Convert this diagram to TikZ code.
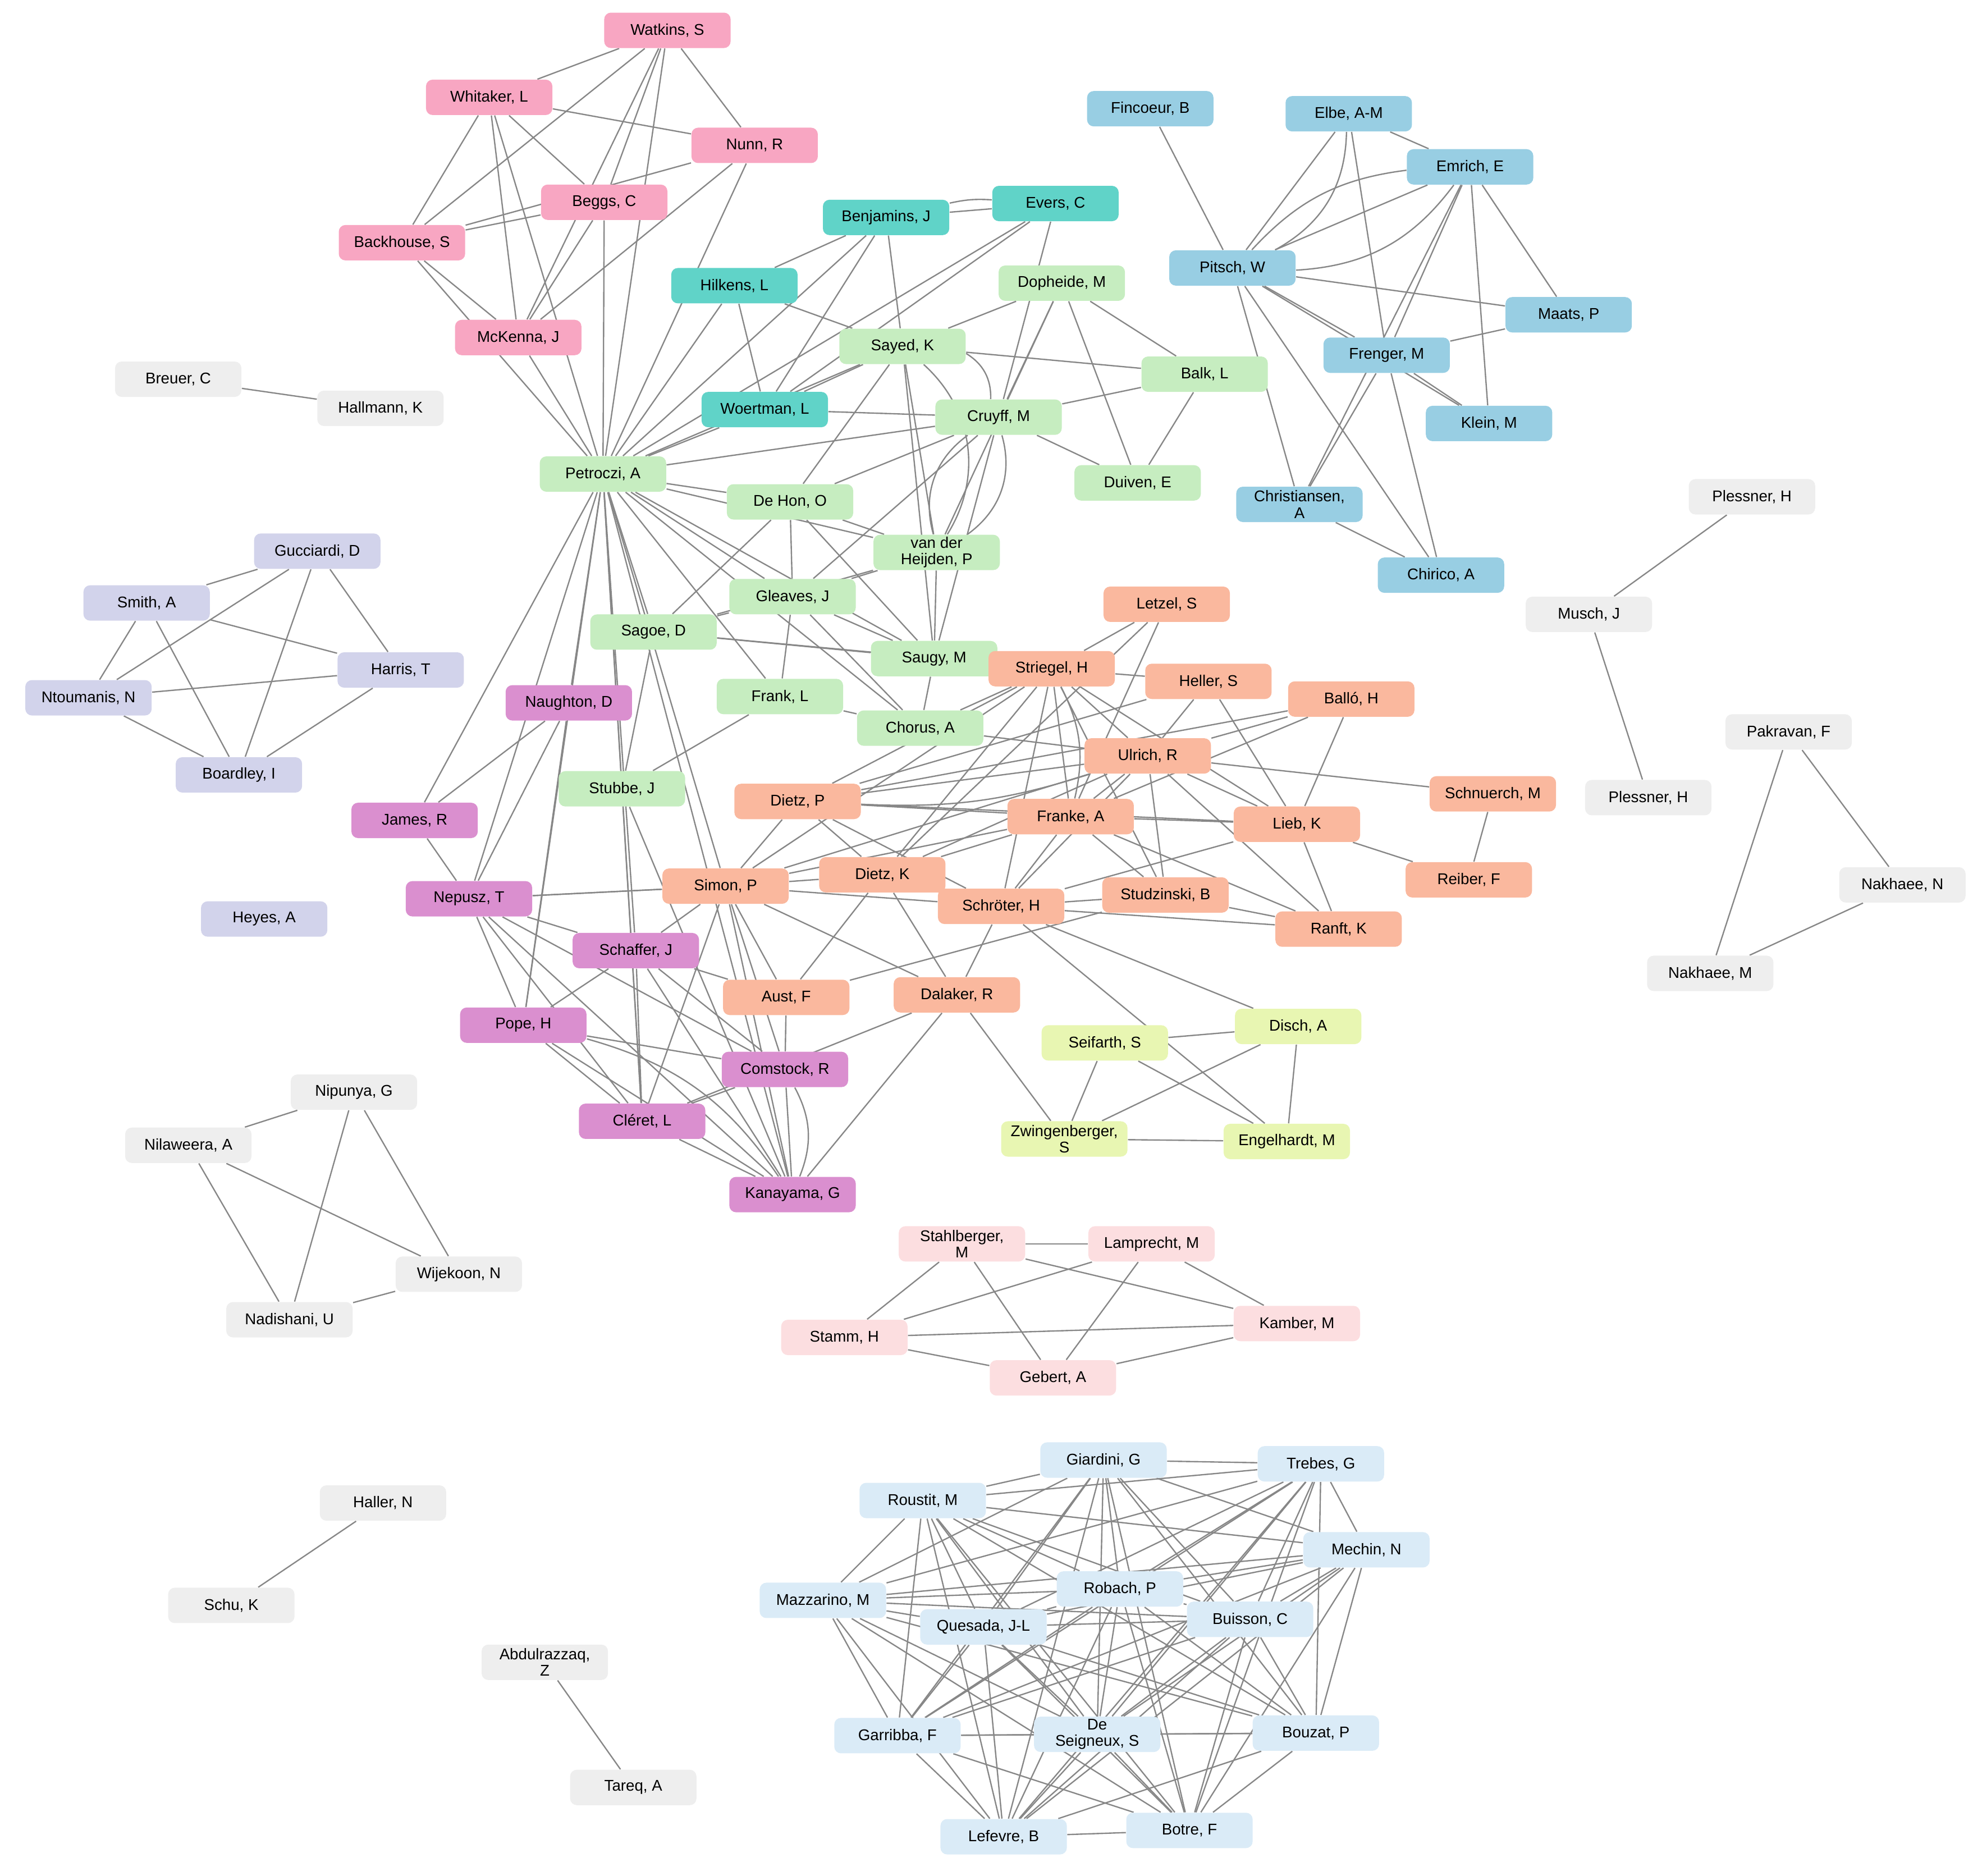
\documentclass[tikz,border=0pt]{standalone}
\usepackage{fontspec}
\setmainfont{Liberation Sans}
\usetikzlibrary{backgrounds}
\definecolor{cpink}{RGB}{248,166,194}
\definecolor{cteal}{RGB}{96,211,200}
\definecolor{cgreen}{RGB}{198,237,192}
\definecolor{cblue}{RGB}{152,206,227}
\definecolor{clav}{RGB}{210,211,235}
\definecolor{corange}{RGB}{250,184,158}
\definecolor{cpurple}{RGB}{218,143,207}
\definecolor{cyellow}{RGB}{232,246,178}
\definecolor{cpale}{RGB}{252,222,224}
\definecolor{csky}{RGB}{218,235,247}
\definecolor{cgray}{RGB}{238,238,238}
\definecolor{cedge}{RGB}{135,135,135}
\tikzset{
  au/.style={rounded corners=3pt, minimum width=2cm, minimum height=0.56cm,
    inner sep=1pt, align=center, font=\fontsize{7}{7.4}\selectfont},
  edge/.style={draw=cedge, line width=0.6pt}
}
\begin{document}
\begin{tikzpicture}[x=0.02cm,y=-0.02cm]
  \useasboundingbox (0,0) rectangle (1568,1484);

  \node[au,fill=cpink] (watkins) at (528,24) {Watkins, S};
  \node[au,fill=cpink] (whitaker) at (387,77) {Whitaker, L};
  \node[au,fill=cpink] (nunn) at (597,115) {Nunn, R};
  \node[au,fill=cpink] (beggs) at (478,160) {Beggs, C};
  \node[au,fill=cpink] (backhouse) at (318,192) {Backhouse, S};
  \node[au,fill=cpink] (mckenna) at (410,267) {McKenna, J};

  \node[au,fill=cteal] (benjamins) at (701,172) {Benjamins, J};
  \node[au,fill=cteal] (evers) at (835,161) {Evers, C};
  \node[au,fill=cteal] (hilkens) at (581,226) {Hilkens, L};
  \node[au,fill=cteal] (woertman) at (605,324) {Woertman, L};

  \node[au,fill=cgreen] (dopheide) at (840,224) {Dopheide, M};
  \node[au,fill=cgreen] (sayed) at (714,274) {Sayed, K};
  \node[au,fill=cgreen] (balk) at (953,296) {Balk, L};
  \node[au,fill=cgreen] (cruyff) at (790,330) {Cruyff, M};
  \node[au,fill=cgreen] (petroczi) at (477,375) {Petroczi, A};
  \node[au,fill=cgreen] (duiven) at (900,382) {Duiven, E};
  \node[au,fill=cgreen] (dehon) at (625,397) {De Hon, O};
  \node[au,fill=cgreen] (vdh) at (741,437) {van der\\Heijden, P};
  \node[au,fill=cgreen] (gleaves) at (627,472) {Gleaves, J};
  \node[au,fill=cgreen] (sagoe) at (517,500) {Sagoe, D};
  \node[au,fill=cgreen] (saugy) at (739,521) {Saugy, M};
  \node[au,fill=cgreen] (frank) at (617,551) {Frank, L};
  \node[au,fill=cgreen] (chorus) at (728,576) {Chorus, A};
  \node[au,fill=cgreen] (stubbe) at (492,624) {Stubbe, J};

  \node[au,fill=cblue] (fincoeur) at (910,86) {Fincoeur, B};
  \node[au,fill=cblue] (elbe) at (1067,90) {Elbe, A-M};
  \node[au,fill=cblue] (emrich) at (1163,132) {Emrich, E};
  \node[au,fill=cblue] (pitsch) at (975,212) {Pitsch, W};
  \node[au,fill=cblue] (maats) at (1241,249) {Maats, P};
  \node[au,fill=cblue] (frenger) at (1097,281) {Frenger, M};
  \node[au,fill=cblue] (klein) at (1178,335) {Klein, M};
  \node[au,fill=cblue] (christiansen) at (1028,399) {Christiansen,\\A};
  \node[au,fill=cblue] (chirico) at (1140,455) {Chirico, A};

  \node[au,fill=clav] (gucciardi) at (251,436) {Gucciardi, D};
  \node[au,fill=clav] (smith) at (116,477) {Smith, A};
  \node[au,fill=clav] (harris) at (317,530) {Harris, T};
  \node[au,fill=clav] (ntoumanis) at (70,552) {Ntoumanis, N};
  \node[au,fill=clav] (boardley) at (189,613) {Boardley, I};
  \node[au,fill=clav] (heyes) at (209,727) {Heyes, A};

  \node[au,fill=corange] (letzel) at (923,478) {Letzel, S};
  \node[au,fill=corange] (striegel) at (832,529) {Striegel, H};
  \node[au,fill=corange] (heller) at (956,539) {Heller, S};
  \node[au,fill=corange] (ballo) at (1069,553) {Balló, H};
  \node[au,fill=corange] (ulrich) at (908,598) {Ulrich, R};
  \node[au,fill=corange] (schnuerch) at (1181,628) {Schnuerch, M};
  \node[au,fill=corange] (dietzP) at (631,634) {Dietz, P};
  \node[au,fill=corange] (franke) at (847,646) {Franke, A};
  \node[au,fill=corange] (lieb) at (1026,652) {Lieb, K};
  \node[au,fill=corange] (reiber) at (1162,696) {Reiber, F};
  \node[au,fill=corange] (simon) at (574,701) {Simon, P};
  \node[au,fill=corange] (dietzK) at (698,692) {Dietz, K};
  \node[au,fill=corange] (studzinski) at (922,708) {Studzinski, B};
  \node[au,fill=corange] (schroeter) at (792,717) {Schröter, H};
  \node[au,fill=corange] (ranft) at (1059,735) {Ranft, K};
  \node[au,fill=corange] (aust) at (622,789) {Aust, F};
  \node[au,fill=corange] (dalaker) at (757,787) {Dalaker, R};

  \node[au,fill=cpurple] (naughton) at (450,556) {Naughton, D};
  \node[au,fill=cpurple] (james) at (328,649) {James, R};
  \node[au,fill=cpurple] (nepusz) at (371,711) {Nepusz, T};
  \node[au,fill=cpurple] (schaffer) at (503,752) {Schaffer, J};
  \node[au,fill=cpurple] (pope) at (414,811) {Pope, H};
  \node[au,fill=cpurple] (comstock) at (621,846) {Comstock, R};
  \node[au,fill=cpurple] (cleret) at (508,887) {Cléret, L};
  \node[au,fill=cpurple] (kanayama) at (627,945) {Kanayama, G};

  \node[au,fill=cyellow] (seifarth) at (874,825) {Seifarth, S};
  \node[au,fill=cyellow] (disch) at (1027,812) {Disch, A};
  \node[au,fill=cyellow] (zwingenberger) at (842,901) {Zwingenberger,\\S};
  \node[au,fill=cyellow] (engelhardt) at (1018,903) {Engelhardt, M};

  \node[au,fill=cpale] (stahlberger) at (761,984) {Stahlberger,\\M};
  \node[au,fill=cpale] (lamprecht) at (911,984) {Lamprecht, M};
  \node[au,fill=cpale] (stamm) at (668,1058) {Stamm, H};
  \node[au,fill=cpale] (kamber) at (1026,1047) {Kamber, M};
  \node[au,fill=cpale] (gebert) at (833,1090) {Gebert, A};

  \node[au,fill=csky] (giardini) at (873,1155) {Giardini, G};
  \node[au,fill=csky] (trebes) at (1045,1158) {Trebes, G};
  \node[au,fill=csky] (roustit) at (730,1187) {Roustit, M};
  \node[au,fill=csky] (mechin) at (1081,1226) {Mechin, N};
  \node[au,fill=csky] (robach) at (886,1257) {Robach, P};
  \node[au,fill=csky] (mazzarino) at (651,1266) {Mazzarino, M};
  \node[au,fill=csky] (buisson) at (989,1281) {Buisson, C};
  \node[au,fill=csky] (quesada) at (778,1287) {Quesada, J-L};
  \node[au,fill=csky] (garribba) at (710,1373) {Garribba, F};
  \node[au,fill=csky] (deseigneux) at (868,1372) {De\\Seigneux, S};
  \node[au,fill=csky] (bouzat) at (1041,1371) {Bouzat, P};
  \node[au,fill=csky] (lefevre) at (794,1453) {Lefevre, B};
  \node[au,fill=csky] (botre) at (941,1448) {Botre, F};

  \node[au,fill=cgray] (breuer) at (141,300) {Breuer, C};
  \node[au,fill=cgray] (hallmann) at (301,323) {Hallmann, K};
  \node[au,fill=cgray] (plessnerA) at (1386,393) {Plessner, H};
  \node[au,fill=cgray] (musch) at (1257,486) {Musch, J};
  \node[au,fill=cgray] (plessnerB) at (1304,631) {Plessner, H};
  \node[au,fill=cgray] (pakravan) at (1415,579) {Pakravan, F};
  \node[au,fill=cgray] (nakhaeeN) at (1505,700) {Nakhaee, N};
  \node[au,fill=cgray] (nakhaeeM) at (1353,770) {Nakhaee, M};
  \node[au,fill=cgray] (nipunya) at (280,864) {Nipunya, G};
  \node[au,fill=cgray] (nilaweera) at (149,906) {Nilaweera, A};
  \node[au,fill=cgray] (wijekoon) at (363,1008) {Wijekoon, N};
  \node[au,fill=cgray] (nadishani) at (229,1044) {Nadishani, U};
  \node[au,fill=cgray] (haller) at (303,1189) {Haller, N};
  \node[au,fill=cgray] (schu) at (183,1270) {Schu, K};
  \node[au,fill=cgray] (abdulrazzaq) at (431,1315) {Abdulrazzaq,\\Z};
  \node[au,fill=cgray] (tareq) at (501,1414) {Tareq, A};

  \begin{pgfonlayer}{background}
    \foreach \a/\b in {watkins/whitaker, watkins/nunn, watkins/backhouse, watkins/beggs,
        watkins/mckenna, watkins/petroczi, whitaker/nunn, whitaker/beggs, whitaker/backhouse,
        whitaker/mckenna, whitaker/petroczi, backhouse/beggs, backhouse/nunn, backhouse/mckenna,
        beggs/mckenna, beggs/petroczi, nunn/mckenna, nunn/petroczi, mckenna/petroczi,
        backhouse/petroczi,
        benjamins/evers, benjamins/hilkens, benjamins/petroczi, benjamins/woertman,
        benjamins/sayed, evers/cruyff, evers/petroczi, hilkens/petroczi, hilkens/sayed,
        hilkens/woertman, woertman/cruyff, woertman/petroczi, woertman/sayed, evers/woertman,
        petroczi/sayed, petroczi/cruyff, petroczi/dehon, petroczi/vdh, petroczi/gleaves,
        petroczi/sagoe, petroczi/saugy, petroczi/chorus, petroczi/stubbe, petroczi/frank,
        petroczi/simon, petroczi/cleret, petroczi/kanayama, petroczi/nepusz, petroczi/schaffer,
        petroczi/pope, petroczi/james, petroczi/naughton,
        dopheide/sayed, dopheide/cruyff, dopheide/balk, dopheide/duiven, dopheide/vdh,
        sayed/balk, sayed/vdh, sayed/dehon, sayed/saugy, cruyff/balk, cruyff/duiven,
        cruyff/dehon, cruyff/saugy, cruyff/gleaves, balk/duiven, dehon/vdh, dehon/gleaves,
        dehon/sagoe, dehon/saugy, vdh/gleaves, vdh/saugy, vdh/sagoe, gleaves/sagoe,
        gleaves/saugy, gleaves/frank, gleaves/chorus, sagoe/saugy, sagoe/stubbe,
        sagoe/striegel, saugy/chorus, saugy/striegel, frank/stubbe, frank/chorus,
        chorus/striegel, chorus/ulrich,
        fincoeur/pitsch, elbe/pitsch, elbe/emrich, emrich/pitsch, emrich/maats, emrich/frenger,
        emrich/klein, emrich/christiansen, pitsch/maats, pitsch/frenger, pitsch/klein,
        pitsch/christiansen, pitsch/chirico, frenger/christiansen, frenger/chirico,
        frenger/klein, christiansen/chirico, maats/frenger, elbe/frenger,
        gucciardi/smith, gucciardi/harris, gucciardi/ntoumanis, gucciardi/boardley,
        smith/harris, smith/ntoumanis, smith/boardley, ntoumanis/harris, ntoumanis/boardley,
        harris/boardley,
        striegel/letzel, striegel/heller, striegel/ulrich, striegel/franke, striegel/dietzP,
        striegel/simon, striegel/dietzK, striegel/schroeter, striegel/studzinski, striegel/lieb,
        ulrich/heller, ulrich/ballo, ulrich/schnuerch, ulrich/lieb, ulrich/franke,
        ulrich/dietzP, ulrich/simon, ulrich/dietzK, ulrich/schroeter, ulrich/ranft,
        ulrich/studzinski, franke/lieb, franke/dietzP, franke/simon, franke/dietzK,
        franke/schroeter, franke/studzinski, franke/ranft, franke/ballo, lieb/ballo,
        lieb/ranft, lieb/reiber, lieb/heller, lieb/schroeter, schnuerch/reiber,
        dietzP/simon, dietzP/dietzK, dietzP/schroeter, dietzP/lieb, simon/dietzK,
        simon/schroeter, simon/aust, simon/dalaker, simon/kanayama, simon/cleret,
        simon/comstock, simon/nepusz, dietzK/schroeter, dietzK/aust, dietzK/dalaker,
        schroeter/studzinski, schroeter/ranft, schroeter/dalaker, schroeter/disch,
        schroeter/engelhardt, studzinski/ranft, letzel/franke, letzel/dietzK, heller/dietzP,
        ballo/dietzP, dalaker/kanayama, dalaker/cleret, dalaker/zwingenberger,
        aust/comstock, aust/schaffer, studzinski/aust,
        naughton/james, naughton/nepusz, naughton/pope, james/nepusz, nepusz/schaffer,
        nepusz/pope, nepusz/comstock, nepusz/cleret, nepusz/kanayama, nepusz/simon,
        schaffer/pope, schaffer/comstock, schaffer/cleret, schaffer/kanayama, schaffer/simon,
        pope/comstock, pope/cleret, pope/kanayama, comstock/cleret, comstock/kanayama,
        cleret/kanayama, stubbe/cleret, stubbe/kanayama,
        seifarth/disch, seifarth/zwingenberger, seifarth/engelhardt, disch/zwingenberger,
        disch/engelhardt, zwingenberger/engelhardt,
        stahlberger/lamprecht, stahlberger/stamm, stahlberger/gebert, stahlberger/kamber,
        lamprecht/stamm, lamprecht/kamber, lamprecht/gebert, stamm/kamber, stamm/gebert,
        gebert/kamber,
        breuer/hallmann, plessnerA/musch, musch/plessnerB, pakravan/nakhaeeN,
        pakravan/nakhaeeM, nakhaeeN/nakhaeeM, nipunya/nilaweera, nipunya/nadishani,
        nipunya/wijekoon, nilaweera/wijekoon, nilaweera/nadishani, nadishani/wijekoon,
        haller/schu, abdulrazzaq/tareq} {
      \draw[edge] (\a) -- (\b);
    }
    \foreach \a/\b/\c in {sayed/cruyff/30, cruyff/vdh/35, cruyff/vdh/-35, sayed/vdh/40,
        emrich/pitsch/25, emrich/pitsch/-20, elbe/pitsch/30, comstock/kanayama/25,
        pope/kanayama/20, striegel/franke/20, ulrich/dietzP/10, benjamins/evers/8} {
      \draw[edge] (\a) to[bend left=\c] (\b);
    }
    \foreach \a [count=\i] in {giardini,trebes,roustit,mechin,robach,mazzarino,buisson,
        quesada,garribba,deseigneux,bouzat,lefevre,botre} {
      \foreach \b [count=\j] in {giardini,trebes,roustit,mechin,robach,mazzarino,buisson,
          quesada,garribba,deseigneux,bouzat,lefevre,botre} {
        \ifnum\i<\j \draw[edge] (\a) -- (\b);\fi
      }
    }
  \end{pgfonlayer}
\end{tikzpicture}
\end{document}
